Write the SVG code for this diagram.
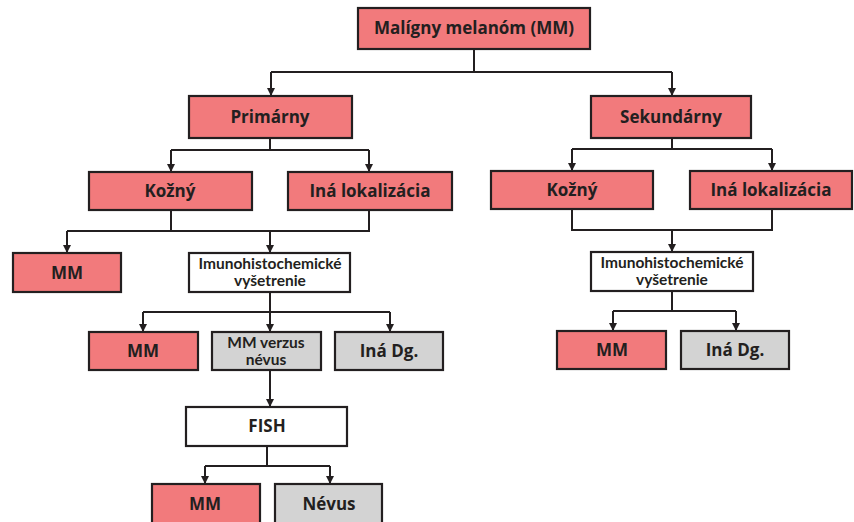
<svg xmlns="http://www.w3.org/2000/svg" width="854" height="522" viewBox="0 0 854 522">
<defs>
<marker id="ah" viewBox="0 0 8 8" refX="8" refY="4" markerWidth="8" markerHeight="8" markerUnits="userSpaceOnUse" orient="auto">
<path d="M0,0 L8,4 L0,8 Z" fill="#231f20"/>
</marker>
<style>
.n rect{stroke:#231f20;stroke-width:2.2}
.red rect{fill:#f27a7c}
.gray rect{fill:#d3d3d3}
.white rect{fill:#ffffff}
text{font-family:"Open Sans","Noto Sans","Liberation Sans",sans-serif;font-weight:700;fill:#231f20;text-anchor:middle}
.big{font-size:17px}
.sm{font-family:Lato,"Open Sans","Liberation Sans",sans-serif;font-size:15.5px}
#connectors path{fill:none;stroke:#231f20;stroke-width:2}
#connectors .a{marker-end:url(#ah)}
</style>
</defs>
<rect width="854" height="522" fill="#ffffff"/>
<g id="connectors">
<path d="M474,49 V72 M271,72 H672"/>
<path class="a" d="M271,72 V96"/>
<path class="a" d="M672,72 V96"/>
<path d="M270,138 V150 M171,150 H369"/>
<path class="a" d="M171,150 V172"/>
<path class="a" d="M369,150 V172"/>
<path d="M171,210 V231 H369 V210 M67,231 H171"/>
<path class="a" d="M67,231 V253"/>
<path class="a" d="M270,231 V253"/>
<path d="M672,138 V149 M572,149 H772"/>
<path class="a" d="M572,149 V171"/>
<path class="a" d="M772,149 V171"/>
<path d="M572,209 V230 H772 V209"/>
<path class="a" d="M672,230 V252"/>
<path d="M672,291 V311 M613,311 H736"/>
<path class="a" d="M613,311 V331"/>
<path class="a" d="M736,311 V331"/>
<path d="M270,292 V312 M143,312 H390"/>
<path class="a" d="M143,312 V332"/>
<path class="a" d="M270,312 V332"/>
<path class="a" d="M390,312 V332"/>
<path class="a" d="M270,370 V407"/>
<path d="M267,446 V466 M205,466 H330"/>
<path class="a" d="M205,466 V484"/>
<path class="a" d="M330,466 V484"/>
</g>
<g id="mm-root" class="n red"><rect x="358" y="8" width="232" height="41"/><text class="big" x="474" y="34">Malígny melanóm (MM)</text></g>
<g id="primarny" class="n red"><rect x="189" y="96" width="163" height="42"/><text class="big" x="270" y="123">Primárny</text></g>
<g id="sekundarny" class="n red"><rect x="591" y="96" width="160" height="42"/><text class="big" x="671" y="123">Sekundárny</text></g>
<g id="p-kozny" class="n red"><rect x="89" y="172" width="163" height="38"/><text class="big" x="170" y="197">Kožný</text></g>
<g id="p-ina-lok" class="n red"><rect x="288" y="172" width="164" height="38"/><text class="big" x="370" y="197">Iná lokalizácia</text></g>
<g id="s-kozny" class="n red"><rect x="491" y="171" width="162" height="38"/><text class="big" x="572" y="196">Kožný</text></g>
<g id="s-ina-lok" class="n red"><rect x="690" y="171" width="162" height="38"/><text class="big" x="771" y="196">Iná lokalizácia</text></g>
<g id="p-mm1" class="n red"><rect x="13" y="253" width="108" height="39"/><text class="big" x="67" y="279">MM</text></g>
<g id="p-imuno" class="n white"><rect x="189" y="253" width="161" height="39"/><text class="sm" x="270" y="269">Imunohistochemické</text><text class="sm" x="270" y="286">vyšetrenie</text></g>
<g id="s-imuno" class="n white"><rect x="591" y="252" width="162" height="39"/><text class="sm" x="672" y="268">Imunohistochemické</text><text class="sm" x="672" y="285">vyšetrenie</text></g>
<g id="p-mm2" class="n red"><rect x="89" y="332" width="109" height="38"/><text class="big" x="143" y="357">MM</text></g>
<g id="p-verzus" class="n gray"><rect x="212" y="332" width="109" height="38"/><text class="sm" x="266" y="348">MM verzus</text><text class="sm" x="266" y="365">névus</text></g>
<g id="p-inadg" class="n gray"><rect x="335" y="332" width="108" height="38"/><text class="big" x="389" y="357">Iná Dg.</text></g>
<g id="s-mm" class="n red"><rect x="557" y="331" width="109" height="38"/><text class="big" x="612" y="356">MM</text></g>
<g id="s-inadg" class="n gray"><rect x="681" y="331" width="108" height="38"/><text class="big" x="735" y="356">Iná Dg.</text></g>
<g id="fish" class="n white"><rect x="186" y="407" width="161" height="39"/><text class="big" x="267" y="432">FISH</text></g>
<g id="f-mm" class="n red"><rect x="152" y="484" width="108" height="40"/><text class="big" x="205" y="510">MM</text></g>
<g id="f-nevus" class="n gray"><rect x="275" y="484" width="107" height="40"/><text class="big" x="329" y="510">Névus</text></g>
</svg>
